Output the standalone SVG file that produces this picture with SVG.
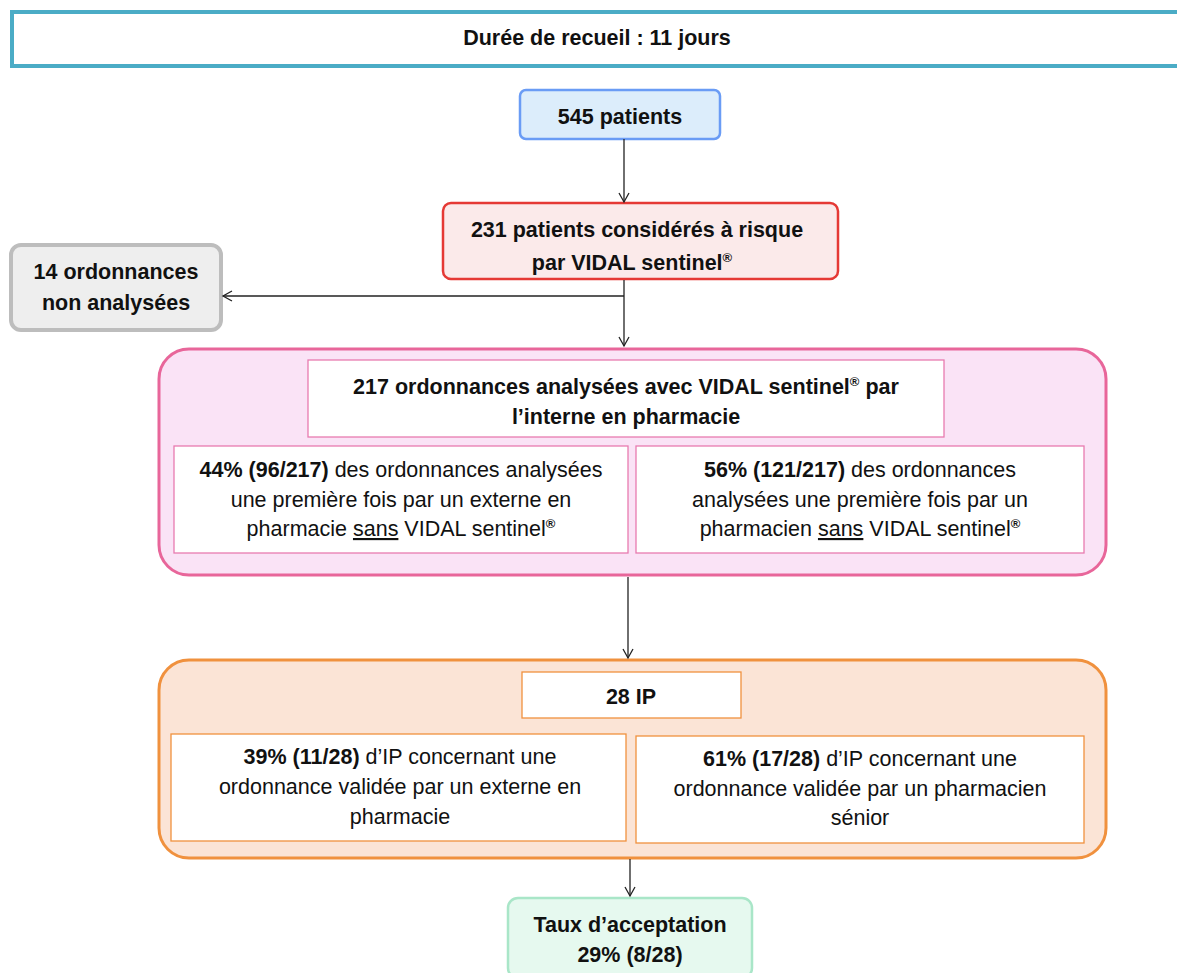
<svg xmlns="http://www.w3.org/2000/svg" width="1177" height="973" viewBox="0 0 1177 973">
<style>
text{font-family:"Liberation Sans",Arial,sans-serif;font-size:21.5px;fill:#111;text-anchor:middle}
.b{font-weight:bold}
.sup{font-size:13px;font-weight:bold}
.u{text-decoration:underline}
.conn{stroke:#222;stroke-width:1.3;fill:none}
.in-p{fill:#fff;stroke:#e87bb0;stroke-width:1.3}
.in-o{fill:#fff;stroke:#f0913e;stroke-width:1.3}
</style>
<defs>
<marker id="arr" markerWidth="12" markerHeight="12" refX="10" refY="6" orient="auto" markerUnits="userSpaceOnUse">
<path d="M1,1 L10,6 L1,11" fill="none" stroke="#222" stroke-width="1.3"/>
</marker>
</defs>
<rect width="1177" height="973" fill="#fff"/>

<g id="duree">
<rect x="12" y="12" width="1180" height="54" fill="#fff" stroke="#4bacc6" stroke-width="4"/>
<text x="597" y="45" class="b">Durée de recueil : 11 jours</text>
</g>

<g id="patients545">
<rect x="520" y="90" width="200" height="49" rx="6" fill="#dcedfb" stroke="#6a9cf5" stroke-width="2.5"/>
<text x="620" y="124" class="b">545 patients</text>
</g>

<g id="risque231">
<rect x="443" y="203" width="395" height="76" rx="8" fill="#fbeaea" stroke="#e53935" stroke-width="2.5"/>
<text x="637" y="237" class="b">231 patients considérés à risque</text>
<text x="632" y="270" class="b">par VIDAL sentinel<tspan class="sup" dy="-8">®</tspan></text>
</g>

<g id="nonanalysees">
<rect x="11" y="245" width="210" height="85" rx="10" fill="#eeeeee" stroke="#bdbdbd" stroke-width="4"/>
<text x="116" y="279" class="b">14 ordonnances</text>
<text x="116" y="310" class="b">non analysées</text>
</g>

<g id="analyse217">
<rect x="159" y="349" width="947" height="226" rx="30" fill="#fae3f6" stroke="#e8669a" stroke-width="3"/>
<rect x="308" y="360" width="636" height="77" class="in-p"/>
<text x="626" y="394" class="b">217 ordonnances analysées avec VIDAL sentinel<tspan class="sup" dy="-8">®</tspan><tspan dy="8"> par</tspan></text>
<text x="626" y="424" class="b">l’interne en pharmacie</text>
<rect x="174" y="446" width="454" height="107" class="in-p"/>
<text x="401" y="477"><tspan class="b">44% (96/217)</tspan> des ordonnances analysées</text>
<text x="401" y="507">une première fois par un externe en</text>
<text x="401" y="536">pharmacie <tspan class="u">sans</tspan> VIDAL sentinel<tspan class="sup" dy="-8">®</tspan></text>
<rect x="636" y="446" width="448" height="107" class="in-p"/>
<text x="860" y="477"><tspan class="b">56% (121/217)</tspan> des ordonnances</text>
<text x="860" y="507">analysées une première fois par un</text>
<text x="860" y="536">pharmacien <tspan class="u">sans</tspan> VIDAL sentinel<tspan class="sup" dy="-8">®</tspan></text>
</g>

<g id="ip28">
<rect x="159" y="660" width="947" height="198" rx="30" fill="#fbe4d6" stroke="#f0913e" stroke-width="3"/>
<rect x="522" y="672" width="219" height="46" class="in-o"/>
<text x="631" y="704" class="b">28 IP</text>
<rect x="171" y="734" width="455" height="107" class="in-o"/>
<text x="400" y="764"><tspan class="b">39% (11/28)</tspan> d’IP concernant une</text>
<text x="400" y="794">ordonnance validée par un externe en</text>
<text x="400" y="824">pharmacie</text>
<rect x="636" y="736" width="448" height="107" class="in-o"/>
<text x="860" y="766"><tspan class="b">61% (17/28)</tspan> d’IP concernant une</text>
<text x="860" y="796">ordonnance validée par un pharmacien</text>
<text x="860" y="825">sénior</text>
</g>

<g id="acceptation">
<rect x="508" y="898" width="244" height="80" rx="10" fill="#e6f9ef" stroke="#a9e6c8" stroke-width="2.5"/>
<text x="630" y="932" class="b">Taux d’acceptation</text>
<text x="630" y="962" class="b">29% (8/28)</text>
</g>

<g id="connectors">
<path class="conn" d="M624,139 V202" marker-end="url(#arr)"/>
<path class="conn" d="M624,280 V346" marker-end="url(#arr)"/>
<path class="conn" d="M624,296 H223" marker-end="url(#arr)"/>
<path class="conn" d="M628,577 V658" marker-end="url(#arr)"/>
<path class="conn" d="M630,859 V896" marker-end="url(#arr)"/>
</g>
</svg>
